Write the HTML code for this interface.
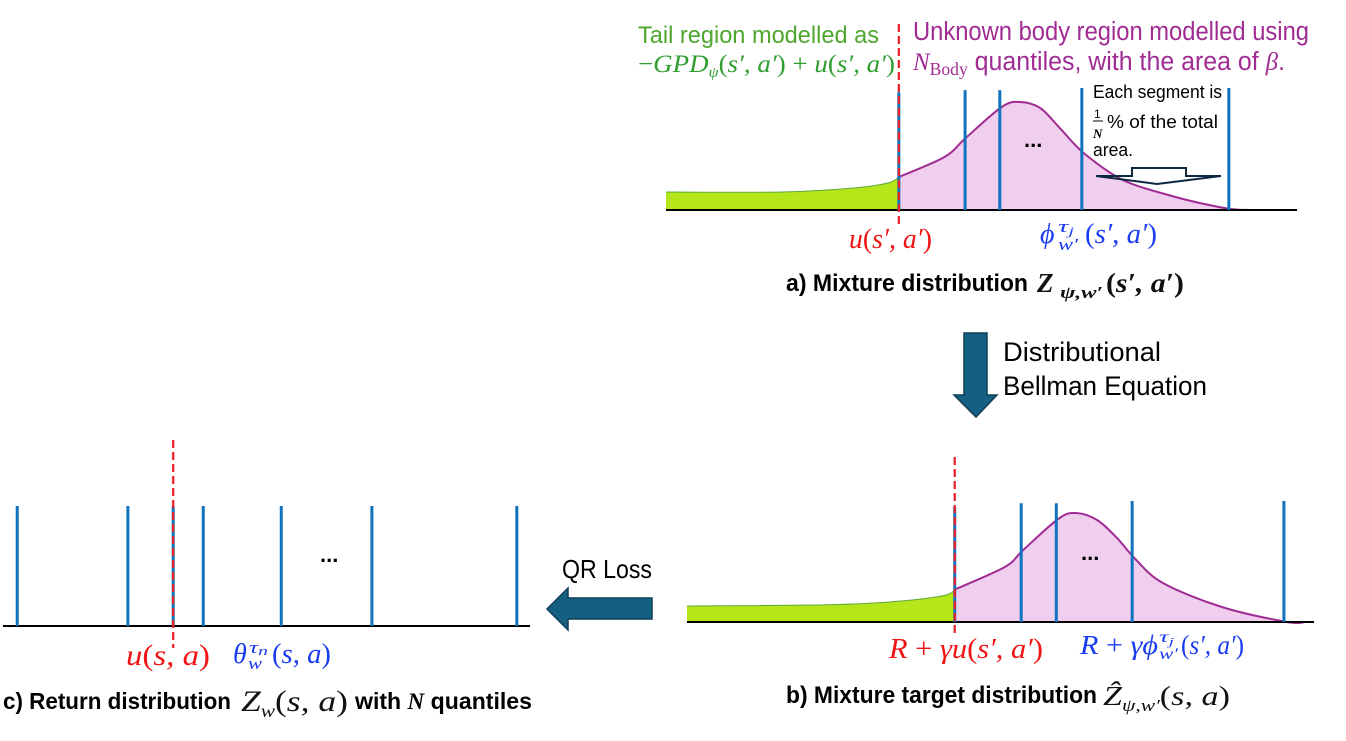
<!DOCTYPE html>
<html lang="en">
<head>
<meta charset="utf-8">
<title>Mixture distribution diagram</title>
<style>
html,body{margin:0;padding:0;background:#fff;width:1346px;height:741px;overflow:hidden}
svg{display:block}
.lib{font-family:"Liberation Sans",sans-serif}
.serif{font-family:"Liberation Serif",serif;font-style:italic}
.up{font-style:normal}
.bold{font-weight:bold}
</style>
</head>
<body>
<svg id="diagram" width="1346" height="741" viewBox="0 0 1346 741" xmlns="http://www.w3.org/2000/svg">
  <g id="panel-a"></g>
  <g id="panel-b"></g>
  <g id="panel-c"></g>

  <!-- Panel a text -->
  <text class="lib" x="638" y="43" font-size="24" fill="#4ea72e" textLength="241" lengthAdjust="spacingAndGlyphs">Tail region modelled as</text>
  <text class="serif" x="638" y="72" font-size="25" fill="#2f9e2f" textLength="257" lengthAdjust="spacingAndGlyphs"><tspan class="up">−</tspan>GPD<tspan font-size="15" dy="5">ψ</tspan><tspan class="up" dy="-5">(</tspan>s′, a′<tspan class="up">) + </tspan>u<tspan class="up">(</tspan>s′, a′<tspan class="up">)</tspan></text>
  <text class="lib" x="913" y="40" font-size="25.5" fill="#a02b93" textLength="396" lengthAdjust="spacingAndGlyphs">Unknown body region modelled using</text>
  <text class="lib" x="913" y="70" font-size="25.5" fill="#a02b93" textLength="372" lengthAdjust="spacingAndGlyphs"><tspan font-family="Liberation Serif" font-style="italic">N</tspan><tspan font-family="Liberation Serif" font-size="18" dy="5">Body</tspan><tspan dy="-5"> quantiles, with the area of </tspan><tspan font-family="Liberation Serif" font-style="italic">β</tspan>.</text>

  <text class="lib" x="1093" y="98" font-size="18" fill="#000" textLength="129" lengthAdjust="spacingAndGlyphs">Each segment is</text>
  <text class="lib" x="1094" y="118" font-size="12" fill="#000">1</text>
  <line x1="1093" y1="121" x2="1103" y2="121" stroke="#000" stroke-width="1"/>
  <text class="serif bold" x="1093" y="138" font-size="13" fill="#000">N</text>
  <text class="lib" x="1107" y="128" font-size="18" fill="#000" textLength="111" lengthAdjust="spacingAndGlyphs">% of the total</text>
  <text class="lib" x="1093" y="156" font-size="18" fill="#000" textLength="40" lengthAdjust="spacingAndGlyphs">area.</text>
  <polygon points="1132,168 1186,168 1186,176 1221,176 1157,184 1096,176 1132,176" fill="#fff" fill-opacity="0" stroke="#0e2841" stroke-width="2"/>
  <text class="lib bold" x="1024" y="151" font-size="22" fill="#000" transform="translate(0,-4)">...</text>

  <text class="serif" x="849" y="248" font-size="28" fill="#f01414" textLength="83" lengthAdjust="spacingAndGlyphs">u<tspan class="up">(</tspan>s′, a′<tspan class="up">)</tspan></text>
  <g class="serif" fill="#1a3cf0">
    <text x="1040" y="243" font-size="28">ϕ</text>
    <text x="1058" y="232" font-size="17" textLength="16" lengthAdjust="spacingAndGlyphs">τ<tspan font-size="12" dy="3">j</tspan></text>
    <text x="1058" y="250" font-size="17" textLength="20" lengthAdjust="spacingAndGlyphs">w′</text>
    <text x="1085" y="243" font-size="28" textLength="72" lengthAdjust="spacingAndGlyphs"><tspan class="up">(</tspan>s′, a′<tspan class="up">)</tspan></text>
  </g>

  <text class="lib bold" x="786" y="291" font-size="24" fill="#000" textLength="242" lengthAdjust="spacingAndGlyphs">a) Mixture distribution</text>
  <g class="serif bold" fill="#111">
    <text x="1037" y="292" font-size="27">Z</text>
    <text x="1060" y="298" font-size="17" textLength="43" lengthAdjust="spacingAndGlyphs">ψ,w′</text>
    <text x="1106" y="292" font-size="27" textLength="78" lengthAdjust="spacingAndGlyphs"><tspan class="up">(</tspan>s′, a′<tspan class="up">)</tspan></text>
  </g>

  <!-- Down arrow -->
  <polygon points="964,333 987,333 987,395 997,395 976,417 954,395 964,395" fill="#156082" stroke="#0d3f56" stroke-width="1.5"/>
  <text class="lib" x="1003" y="361" font-size="27" fill="#000" textLength="158" lengthAdjust="spacingAndGlyphs">Distributional</text>
  <text class="lib" x="1003" y="395" font-size="27" fill="#000" textLength="204" lengthAdjust="spacingAndGlyphs">Bellman Equation</text>

  <!-- Panel b text -->
  <text class="lib bold" x="1081" y="560" font-size="22" fill="#000">...</text>
  <text class="serif" x="889" y="658" font-size="28" fill="#f01414" textLength="154" lengthAdjust="spacingAndGlyphs">R <tspan class="up">+</tspan> γu<tspan class="up">(</tspan>s′, a′<tspan class="up">)</tspan></text>
  <g class="serif" fill="#1a3cf0">
    <text x="1080" y="654" font-size="27" textLength="78" lengthAdjust="spacingAndGlyphs">R <tspan class="up">+</tspan> γϕ</text>
    <text x="1159" y="642" font-size="16" textLength="15" lengthAdjust="spacingAndGlyphs">τ<tspan font-size="11" dy="3">j</tspan></text>
    <text x="1159" y="659" font-size="16" textLength="19" lengthAdjust="spacingAndGlyphs">w′</text>
    <text x="1181" y="654" font-size="27" textLength="63" lengthAdjust="spacingAndGlyphs"><tspan class="up">(</tspan>s′, a′<tspan class="up">)</tspan></text>
  </g>
  <text class="lib bold" x="786" y="703" font-size="24" fill="#000" textLength="311" lengthAdjust="spacingAndGlyphs">b) Mixture target distribution</text>
  <text class="serif" x="1103" y="705" font-size="27" fill="#111" textLength="127" lengthAdjust="spacingAndGlyphs">Ẑ<tspan font-size="17" dy="6">ψ,w′</tspan><tspan class="up" dy="-6">(</tspan>s, a<tspan class="up">)</tspan></text>

  <!-- QR loss arrow -->
  <text class="lib" x="562" y="578" font-size="26" fill="#000" textLength="90" lengthAdjust="spacingAndGlyphs">QR Loss</text>
  <polygon points="652,598 568,598 568,588 547,609 568,630 568,619 652,619" fill="#156082" stroke="#0d3f56" stroke-width="1.5"/>

  <!-- Panel c text -->
  <text class="lib bold" x="320" y="562" font-size="22" fill="#000">...</text>
  <text class="serif" x="126" y="665" font-size="30" fill="#f01414" textLength="84" lengthAdjust="spacingAndGlyphs">u<tspan class="up">(</tspan>s, a<tspan class="up">)</tspan></text>
  <g class="serif" fill="#1a3cf0">
    <text x="233" y="663" font-size="28">θ</text>
    <text x="249" y="653" font-size="17" textLength="19" lengthAdjust="spacingAndGlyphs">τ<tspan font-size="13" dy="2">n</tspan></text>
    <text x="248" y="669" font-size="17" textLength="14" lengthAdjust="spacingAndGlyphs">w</text>
    <text x="272" y="663" font-size="28" textLength="59" lengthAdjust="spacingAndGlyphs"><tspan class="up">(</tspan>s, a<tspan class="up">)</tspan></text>
  </g>
  <text class="lib bold" x="3" y="709" font-size="23" fill="#000" textLength="228" lengthAdjust="spacingAndGlyphs">c) Return distribution</text>
  <text class="serif" x="241" y="711" font-size="30" fill="#111" textLength="107" lengthAdjust="spacingAndGlyphs">Z<tspan font-size="18" dy="6">w</tspan><tspan class="up" dy="-6">(</tspan>s, a<tspan class="up">)</tspan></text>
  <text class="lib bold" x="355" y="709" font-size="23" fill="#000" textLength="177" lengthAdjust="spacingAndGlyphs">with <tspan class="serif">N</tspan> quantiles</text>
</svg>

<script>
// Panel a values (return axis 0-100, density 0-100 relative to peak)
var thresholdA = 36.9;
var quantilesA = [36.9, 47.4, 52.9, 65.9, 89.2];
var stemsA = [109, 111, 111, 113, 113];
var tailXA = [0, 18.4, 29.8, 35.2, 36.9];
var tailYA = [16.7, 16.7, 20.4, 25, 30.6];
var bodyXA = [36.9, 44.1, 47.5, 53.2, 56.1, 59.3, 62.4, 66.2, 72.4, 79.6, 84.6, 89.5, 92.4];
var bodyYA = [30.6, 49, 66.7, 95.4, 100, 94.4, 76, 52.8, 27.8, 13.9, 6.5, 0.9, 0];

// Panel b values
var thresholdB = 42.7;
var quantilesB = [42.7, 53.3, 58.9, 71, 95.2];
var stemsB = [105.5, 109, 109, 111, 111];
var tailXB = [0, 20.7, 32.1, 40.7, 42.9];
var tailYB = [14.7, 15.6, 18.3, 23.9, 30.3];
var bodyXB = [42.9, 50.7, 53.6, 59.2, 62, 65.4, 68.6, 71.5, 75.9, 85.3, 95.7, 98.6];
var bodyYB = [30.3, 50.5, 66, 94.5, 100, 93.6, 77, 57.8, 35.8, 13.8, 0, 0];

// Panel c values
var thresholdC = 32.3;
var quantilesC = [2.7, 23.7, 32.3, 38, 52.8, 70, 97.5];
var stemsC = [100, 100, 100, 100, 100, 100, 100];

var NS = 'http://www.w3.org/2000/svg';

function makeAxis(x0, x1, base, pxPerUnit) {
  return {
    x: function (v) { return x0 + v * (x1 - x0) / 100; },
    y: function (v) { return base - v * pxPerUnit; },
    x0: x0, x1: x1, base: base
  };
}

function smoothPath(xs, ys, ax) {
  var pts = xs.map(function (v, i) { return [ax.x(v), ax.y(ys[i])]; });
  var d = 'M' + pts[0][0].toFixed(1) + ' ' + pts[0][1].toFixed(1);
  for (var i = 0; i < pts.length - 1; i++) {
    var p0 = pts[Math.max(i - 1, 0)], p1 = pts[i], p2 = pts[i + 1], p3 = pts[Math.min(i + 2, pts.length - 1)];
    var c1x = p1[0] + (p2[0] - p0[0]) / 6, c1y = p1[1] + (p2[1] - p0[1]) / 6;
    var c2x = p2[0] - (p3[0] - p1[0]) / 6, c2y = p2[1] - (p3[1] - p1[1]) / 6;
    d += ' C' + c1x.toFixed(1) + ' ' + c1y.toFixed(1) + ' ' + c2x.toFixed(1) + ' ' + c2y.toFixed(1) + ' ' + p2[0].toFixed(1) + ' ' + p2[1].toFixed(1);
  }
  return d;
}

function drawDensity(group, ax, xs, ys, fill, stroke, strokeWidth, fillName, lineName) {
  var line = smoothPath(xs, ys, ax);
  var area = document.createElementNS(NS, 'path');
  area.setAttribute('d', line + ' L' + ax.x(xs[xs.length - 1]).toFixed(1) + ' ' + ax.base + ' L' + ax.x(xs[0]).toFixed(1) + ' ' + ax.base + ' Z');
  area.setAttribute('fill', fill);
  
  
  group.appendChild(area);
  var curve = document.createElementNS(NS, 'path');
  curve.setAttribute('d', line);
  curve.setAttribute('fill', 'none');
  curve.setAttribute('stroke', stroke);
  curve.setAttribute('stroke-width', strokeWidth);
  
  
  group.appendChild(curve);
}

function drawAxis(group, ax) {
  var axis = document.createElementNS(NS, 'line');
  axis.setAttribute('x1', ax.x0);
  axis.setAttribute('x2', ax.x1);
  axis.setAttribute('y1', ax.base);
  axis.setAttribute('y2', ax.base);
  axis.setAttribute('stroke', '#000');
  axis.setAttribute('stroke-width', 2);
  
  
  group.appendChild(axis);
}

function drawStems(group, ax, values, stems) {
  values.forEach(function (v, i) {
    var stem = document.createElementNS(NS, 'line');
    stem.setAttribute('x1', ax.x(v));
    stem.setAttribute('x2', ax.x(v));
    stem.setAttribute('y1', ax.base);
    stem.setAttribute('y2', ax.y(stems[i]));
    stem.setAttribute('stroke', '#0f73bd');
    stem.setAttribute('stroke-width', 3);
    
    
    group.appendChild(stem);
  });
}

function drawThreshold(group, ax, value, top, bottom) {
  var dash = document.createElementNS(NS, 'line');
  dash.setAttribute('x1', ax.x(value));
  dash.setAttribute('x2', ax.x(value));
  dash.setAttribute('y1', top);
  dash.setAttribute('y2', bottom);
  dash.setAttribute('stroke', '#ee1c25');
  dash.setAttribute('stroke-width', 2.2);
  dash.setAttribute('stroke-dasharray', '8 4');
  
  
  group.appendChild(dash);
}

var axA = makeAxis(666, 1297, 210, 1.08);
var gA = document.getElementById('panel-a');
drawDensity(gA, axA, tailXA, tailYA, '#b5e61a', '#5fa83a', 1, 'tail-area-a', 'tail-curve-a');
drawDensity(gA, axA, bodyXA, bodyYA, '#f0cfee', '#a02b93', 2, 'body-area-a', 'body-curve-a');
drawAxis(gA, axA);
drawStems(gA, axA, quantilesA, stemsA);
drawThreshold(gA, axA, thresholdA, 24, 226);

var axB = makeAxis(687, 1314, 622, 1.09);
var gB = document.getElementById('panel-b');
drawDensity(gB, axB, tailXB, tailYB, '#b5e61a', '#5fa83a', 1, 'tail-area-b', 'tail-curve-b');
drawDensity(gB, axB, bodyXB, bodyYB, '#f0cfee', '#a02b93', 2, 'body-area-b', 'body-curve-b');
drawAxis(gB, axB);
drawStems(gB, axB, quantilesB, stemsB);
drawThreshold(gB, axB, thresholdB, 457, 633);

var axC = makeAxis(3, 530, 626, 1.2);
var gC = document.getElementById('panel-c');
drawAxis(gC, axC);
drawStems(gC, axC, quantilesC, stemsC);
drawThreshold(gC, axC, thresholdC, 440, 648);
</script>
</body>
</html>
